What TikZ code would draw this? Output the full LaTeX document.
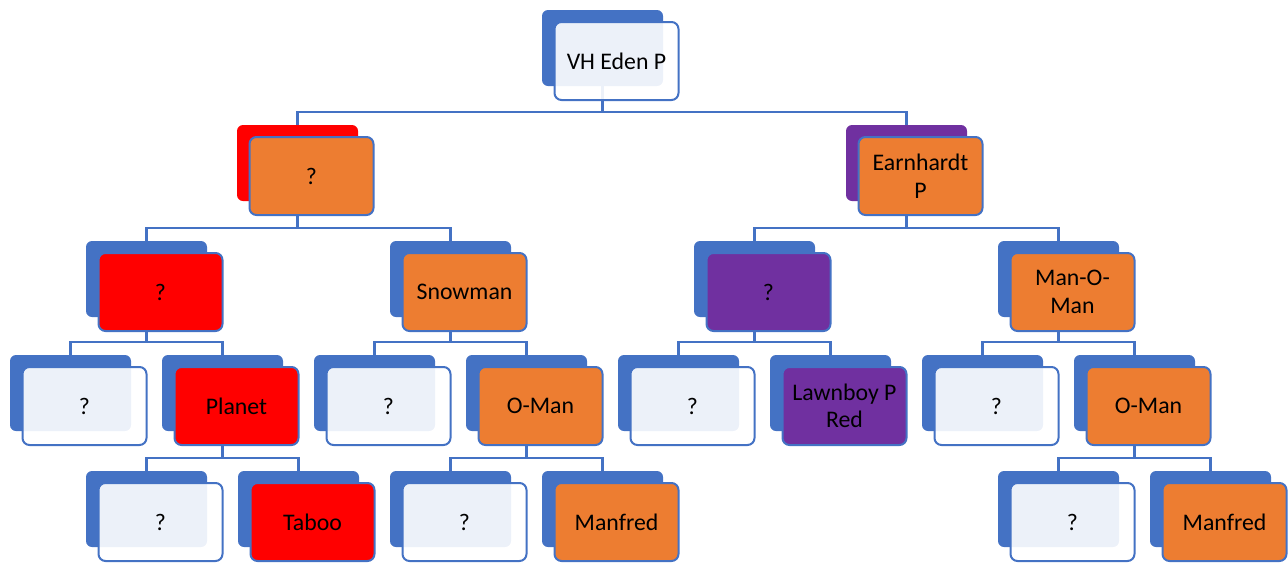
\documentclass[tikz,border=0pt]{standalone}
\usepackage{fontspec}
\setmainfont{Carlito}
\usetikzlibrary{calc}
\definecolor{sablue}{HTML}{4472C4}
\definecolor{saorange}{HTML}{ED7D31}
\definecolor{sared}{HTML}{FF0000}
\definecolor{sapurple}{HTML}{7030A0}
\tikzset{
  backbox/.style={rectangle, rounded corners=6pt, minimum width=121pt, minimum height=76pt,
    inner sep=0pt, fill=#1, draw=none},
  backbox/.default=sablue,
  frontbox/.style={rectangle, rounded corners=7pt, minimum width=124pt, minimum height=78pt,
    inner sep=2pt, align=center, draw=sablue, line width=2pt, fill=#1,
    font=\fontsize{23.8}{27.5}\selectfont},
  lightbox/.style={frontbox=white, fill opacity=0.9, text opacity=1},
  conn/.style={draw=sablue, line width=2.2pt},
}
\begin{document}
\begin{tikzpicture}[x=1pt,y=-1pt]
\useasboundingbox (0,0) rectangle (1288,563);

% back plates
\node[backbox] (r) at (602.5,48) {};
\node[backbox=sared] (a) at (297.5,163) {};
\node[backbox=sapurple] (b) at (906.5,163) {};
\node[backbox] (aa) at (146.5,279) {};
\node[backbox] (ab) at (450.5,279) {};
\node[backbox] (ba) at (754.5,279) {};
\node[backbox] (bb) at (1058.5,279) {};
\node[backbox] (aaa) at (70.5,393) {};
\node[backbox] (aab) at (222.5,393) {};
\node[backbox] (aba) at (374.5,393) {};
\node[backbox] (abb) at (526.5,393) {};
\node[backbox] (baa) at (678.5,393) {};
\node[backbox] (bab) at (830.5,393) {};
\node[backbox] (bba) at (982.5,393) {};
\node[backbox] (bbb) at (1134.5,393) {};
\node[backbox] (aaba) at (146.5,509) {};
\node[backbox] (aabb) at (298.5,509) {};
\node[backbox] (abba) at (450.5,509) {};
\node[backbox] (abbb) at (602.5,509) {};
\node[backbox] (bbba) at (1058.5,509) {};
\node[backbox] (bbbb) at (1210.5,509) {};

% elbow connectors, parent plate to child plate
\foreach \p/\c in {r/a, r/b, a/aa, a/ab, b/ba, b/bb,
                   aa/aaa, aa/aab, ab/aba, ab/abb, ba/baa, ba/bab, bb/bba, bb/bbb,
                   aab/aaba, aab/aabb, abb/abba, abb/abbb, bbb/bbba, bbb/bbbb}
  \draw[conn] (\p.south) |- ($(\c.north)+(0,-13)$) -- (\c.north);

% front cards with the names
\node[lightbox] (rf) at ($(r)+(14,13)$) {VH Eden P};
\node[frontbox=saorange] (af) at ($(a)+(14,13)$) {?};
\node[frontbox=saorange] (bf) at ($(b)+(14,13)$) {Earnhardt\\P};
\node[frontbox=sared] (aaf) at ($(aa)+(14,13)$) {?};
\node[frontbox=saorange] (abf) at ($(ab)+(14,13)$) {Snowman};
\node[frontbox=sapurple] (baf) at ($(ba)+(14,13)$) {?};
\node[frontbox=saorange] (bbf) at ($(bb)+(14,13)$) {Man-O-\\Man};
\node[lightbox] (aaaf) at ($(aaa)+(14,13)$) {?};
\node[frontbox=sared] (aabf) at ($(aab)+(14,13)$) {Planet};
\node[lightbox] (abaf) at ($(aba)+(14,13)$) {?};
\node[frontbox=saorange] (abbf) at ($(abb)+(14,13)$) {O-Man};
\node[lightbox] (baaf) at ($(baa)+(14,13)$) {?};
\node[frontbox=sapurple] (babf) at ($(bab)+(14,13)$) {Lawnboy P\\Red};
\node[lightbox] (bbaf) at ($(bba)+(14,13)$) {?};
\node[frontbox=saorange] (bbbf) at ($(bbb)+(14,13)$) {O-Man};
\node[lightbox] (aabaf) at ($(aaba)+(14,13)$) {?};
\node[frontbox=sared] (aabbf) at ($(aabb)+(14,13)$) {Taboo};
\node[lightbox] (abbaf) at ($(abba)+(14,13)$) {?};
\node[frontbox=saorange] (abbbf) at ($(abbb)+(14,13)$) {Manfred};
\node[lightbox] (bbbaf) at ($(bbba)+(14,13)$) {?};
\node[frontbox=saorange] (bbbbf) at ($(bbbb)+(14,13)$) {Manfred};
\end{tikzpicture}
\end{document}
